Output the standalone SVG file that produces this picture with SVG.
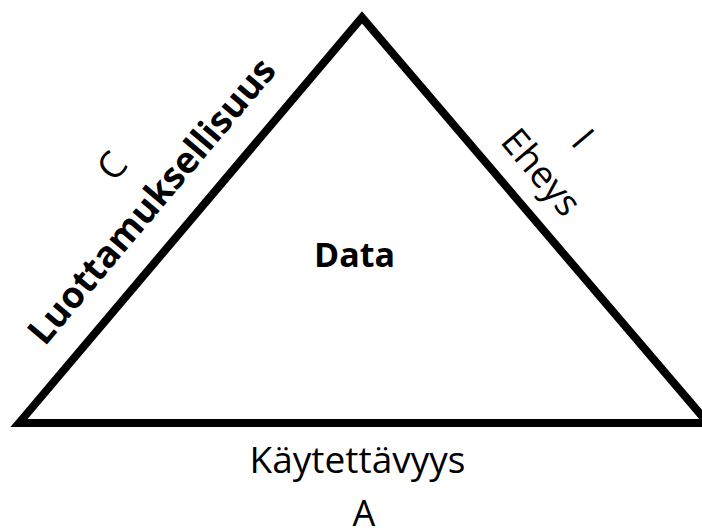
<svg xmlns="http://www.w3.org/2000/svg" width="702" height="532" viewBox="0 0 702 532">
<style>
.t{font-family:"Open Sans","Liberation Sans",sans-serif;fill:#000;}
.b{font-weight:700;}
.r{font-weight:400;}
</style>
<rect width="702" height="532" fill="#fff"/>
<g id="triangle">
<polygon points="19,423 362,17.5 708,423" fill="none" stroke="#000" stroke-width="8" stroke-linejoin="miter" stroke-miterlimit="10"/>
</g>
<g id="data">
<text class="t b" x="354.5" y="267.3" font-size="34" text-anchor="middle">Data</text>
</g>
<g id="confidentiality">
<text class="t b" x="161.2" y="209.1" font-size="36.5" text-anchor="middle" transform="rotate(-49.8 161.2 209.1)">Luottamuksellisuus</text>
<text class="t r" x="121.9" y="174.4" font-size="37" text-anchor="middle" transform="rotate(-49.8 121.9 174.4)">C</text>
</g>
<g id="integrity">
<text class="t r" x="531.5" y="180.4" font-size="37" text-anchor="middle" transform="rotate(49.8 531.5 180.4)">Eheys</text>
<text class="t r" x="573.1" y="146.9" font-size="37" text-anchor="middle" transform="rotate(49.8 573.1 146.9)">I</text>
</g>
<g id="availability">
<text class="t r" x="357.5" y="472.7" font-size="37" text-anchor="middle">Käytettävyys</text>
<text class="t r" x="364" y="526" font-size="36" text-anchor="middle">A</text>
</g>
</svg>
